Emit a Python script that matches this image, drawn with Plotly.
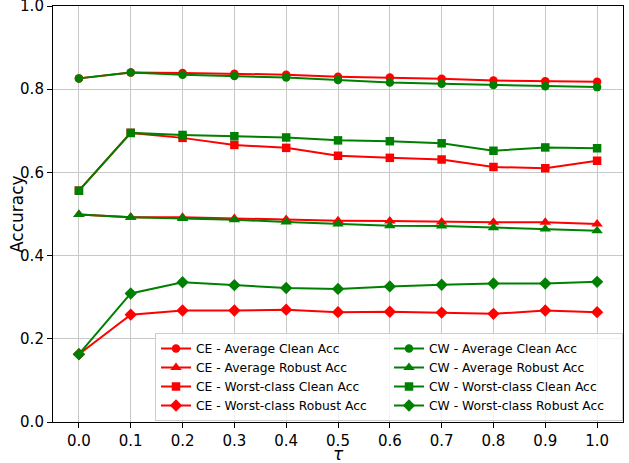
import plotly.graph_objects as go

tau = [0.0, 0.1, 0.2, 0.3, 0.4, 0.5, 0.6, 0.7, 0.8, 0.9, 1.0]

ce_avg_clean = [0.826, 0.840, 0.839, 0.837, 0.835, 0.830, 0.828, 0.825, 0.821, 0.819, 0.818]
ce_avg_robust = [0.499, 0.492, 0.492, 0.489, 0.487, 0.484, 0.483, 0.481, 0.480, 0.480, 0.476]
ce_worst_clean = [0.556, 0.695, 0.683, 0.666, 0.659, 0.640, 0.635, 0.631, 0.613, 0.610, 0.628]
ce_worst_robust = [0.163, 0.258, 0.268, 0.268, 0.270, 0.264, 0.265, 0.263, 0.260, 0.268, 0.264]

cw_avg_clean = [0.826, 0.840, 0.835, 0.832, 0.828, 0.822, 0.816, 0.813, 0.810, 0.807, 0.805]
cw_avg_robust = [0.499, 0.492, 0.489, 0.486, 0.481, 0.476, 0.472, 0.471, 0.467, 0.464, 0.460]
cw_worst_clean = [0.556, 0.695, 0.690, 0.687, 0.684, 0.677, 0.675, 0.670, 0.652, 0.660, 0.658]
cw_worst_robust = [0.163, 0.309, 0.336, 0.329, 0.322, 0.320, 0.326, 0.330, 0.333, 0.333, 0.337]

tick_vals = tau
tick_text = ["0.0", "0.1", "0.2", "0.3", "0.4", "0.5", "0.6", "0.7", "0.8", "0.9", "1.0"]
y_tick_vals = [0.0, 0.2, 0.4, 0.6, 0.8, 1.0]
y_tick_text = ["0.0", "0.2", "0.4", "0.6", "0.8", "1.0"]

series = [
    ("CE - Average Clean Acc", ce_avg_clean, "red", "circle", 1),
    ("CE - Average Robust Acc", ce_avg_robust, "red", "triangle-up", 3),
    ("CE - Worst-class Clean Acc", ce_worst_clean, "red", "square", 5),
    ("CE - Worst-class Robust Acc", ce_worst_robust, "red", "diamond", 7),
    ("CW - Average Clean Acc", cw_avg_clean, "green", "circle", 2),
    ("CW - Average Robust Acc", cw_avg_robust, "green", "triangle-up", 4),
    ("CW - Worst-class Clean Acc", cw_worst_clean, "green", "square", 6),
    ("CW - Worst-class Robust Acc", cw_worst_robust, "green", "diamond", 8),
]
sizes = {"circle": 8.5, "triangle-up": 10, "square": 8.5, "diamond": 9.5}

fig = go.Figure()
for name, vals, color, sym, rank in series:
    fig.add_trace(go.Scatter(
        x=tau, y=vals, name=name, mode="lines+markers",
        line=dict(color=color, width=2),
        marker=dict(symbol=sym, size=sizes[sym], color=color, line=dict(width=0)),
        legendrank=rank,
    ))

font = "DejaVu Sans"
axis_common = dict(
    showgrid=True, gridcolor="#c8c8c8", gridwidth=1,
    showline=True, linecolor="black", linewidth=1.1, mirror=True,
    ticks="outside", ticklen=5, tickwidth=1.1, tickcolor="black",
    zeroline=False, automargin=False, ticklabeloverflow="allow",
    tickfont=dict(family=font, size=15, color="black"),
)
plot_h = 463 - 6 - 41
plot_w = 629 - 53 - 6
fig.update_layout(
    width=629, height=463,
    margin=dict(l=53, r=6, t=6, b=41),
    plot_bgcolor="white", paper_bgcolor="white",
    font=dict(family=font, size=15, color="black"),
    showlegend=True,
    legend=dict(
        orientation="h",
        x=1.0, y=1 / plot_h, xanchor="right", yanchor="bottom",
        bgcolor="rgba(255,255,255,0.8)", bordercolor="#cccccc", borderwidth=1,
        entrywidth=188, entrywidthmode="pixels",
        font=dict(family=font, size=12.3, color="black"),
        tracegroupgap=0, itemwidth=30,
    ),
    xaxis=dict(range=[-0.05, 1.05], tickvals=tick_vals, ticktext=tick_text, **axis_common),
    yaxis=dict(range=[0, 1], tickvals=y_tick_vals, ticktext=y_tick_text, **axis_common),
    annotations=[
        dict(text="<i>τ</i>", xref="paper", yref="paper", x=0.5, y=(422 - 454) / plot_h,
             xanchor="center", yanchor="middle", showarrow=False,
             font=dict(family=font, size=17, color="black")),
        dict(text="Accuracy", xref="paper", yref="paper", x=(17 - 53) / plot_w, y=0.5,
             xanchor="center", yanchor="middle", textangle=-90, showarrow=False,
             font=dict(family=font, size=17, color="black")),
    ],
)

fig.write_html("out.html")
